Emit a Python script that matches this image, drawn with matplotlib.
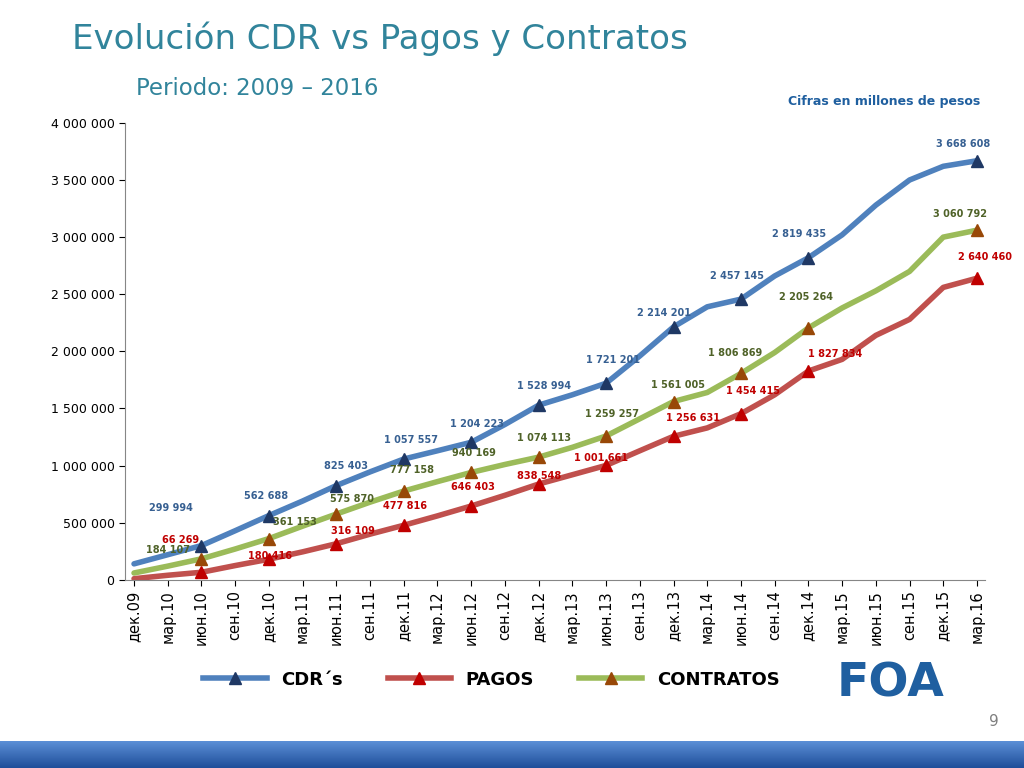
import numpy as np
import matplotlib
matplotlib.use('Agg')
import matplotlib.pyplot as plt
from matplotlib.ticker import FuncFormatter, MultipleLocator

QUARTERS = ['дек.09', 'мар.10', 'июн.10', 'сен.10', 'дек.10', 'мар.11', 'июн.11',
            'сен.11', 'дек.11', 'мар.12', 'июн.12', 'сен.12', 'дек.12', 'мар.13',
            'июн.13', 'сен.13', 'дек.13', 'мар.14', 'июн.14', 'сен.14', 'дек.14',
            'мар.15', 'июн.15', 'сен.15', 'дек.15', 'мар.16']

CDR = [140000, 220000, 299994, 430000, 562688, 690000, 825403, 945000, 1057557,
       1130000, 1204223, 1360000, 1528994, 1620000, 1721201, 1960000, 2214201,
       2390000, 2457145, 2660000, 2819435, 3020000, 3280000, 3500000, 3620000,
       3668608]
PAGOS = [10000, 40000, 66269, 125000, 180416, 245000, 316109, 400000, 477816,
         560000, 646403, 740000, 838548, 920000, 1001661, 1130000, 1256631,
         1330000, 1454415, 1620000, 1827834, 1930000, 2140000, 2280000, 2560000,
         2640460]
CONTRATOS = [60000, 120000, 184107, 270000, 361153, 470000, 575870, 680000,
             777158, 860000, 940169, 1010000, 1074113, 1160000, 1259257, 1410000,
             1561005, 1640000, 1806869, 1990000, 2205264, 2380000, 2530000,
             2700000, 3000000, 3060792]

# quarters carrying a marker and a value label
MARKED = [2, 4, 6, 8, 10, 12, 14, 16, 18, 20, 25]

SERIES = [
    ('CDR´s', CDR, '#4F81BD', '#1F3864', '#376092',
     [(-22, 27), (-2, 14), (7, 14), (5, 14), (4, 13), (4, 14), (5, 17),
      (-7, 10), (-3, 17), (-7, 17), (-10, 12)]),
    ('PAGOS', PAGOS, '#C0504D', '#C00000', '#C00000',
     [(-15, 23), (1, 2), (12, 9), (1, 14), (1, 14), (0, 6), (-4, 5),
      (14, 13), (9, 16), (19, 12), (6, 15)]),
    ('CONTRATOS', CONTRATOS, '#9BBB59', '#984807', '#4F6228',
     [(-24, 6), (19, 12), (11, 11), (6, 15), (2, 14), (4, 14), (4, 16),
      (3, 12), (-4, 15), (-2, 22), (-12, 12)]),
]

fig = plt.figure(figsize=(10.24, 7.68), dpi=100)
ax = fig.add_axes([0.122, 0.245, 0.840, 0.595])
x = np.arange(len(QUARTERS))

for name, vals, col, mcol, lcol, offs in SERIES:
    ax.plot(x, vals, color=col, lw=4, solid_capstyle='round', zorder=2)
    ax.plot(x[MARKED], np.array(vals)[MARKED], ls='none', marker='^', ms=9,
            mfc=mcol, mec=mcol, zorder=3)
    for i, (dx, dy) in zip(MARKED, offs):
        ax.annotate(f'{vals[i]:,}'.replace(',', ' '), (x[i], vals[i]),
                    xytext=(dx, dy), textcoords='offset points', ha='center',
                    va='center', fontsize=7, fontweight='bold', color=lcol,
                    zorder=4)

ax.set_xlim(-0.27, 25.24)
ax.set_ylim(0, 4000000)
ax.yaxis.set_major_locator(MultipleLocator(500000))
ax.yaxis.set_major_formatter(FuncFormatter(lambda v, p: f'{int(v):,}'.replace(',', ' ')))
ax.set_xticks(x)
ax.set_xticklabels(QUARTERS, rotation=90, fontsize=10.5)
ax.tick_params(axis='y', labelsize=9, length=4)
ax.tick_params(axis='x', length=4)
for s in ['top', 'right']:
    ax.spines[s].set_visible(False)
for s in ['left', 'bottom']:
    ax.spines[s].set_color('#868686')

# legend
handles = [plt.Line2D([], [], color=c, lw=4, marker='^', ms=9, mfc=m, mec=m)
           for _, _, c, m, _, _ in SERIES]
fig.legend(handles, [s[0] for s in SERIES], loc='center', ncol=3,
           bbox_to_anchor=(0.48, 0.115), frameon=False,
           handlelength=3.5, columnspacing=2.5,
           prop={'weight': 'bold', 'size': 13})

fig.text(0.07, 0.95, 'Evolución CDR vs Pagos y Contratos', fontsize=24.5,
         color='#31849B', va='center')
fig.text(0.133, 0.885, 'Periodo: 2009 – 2016', fontsize=16.5, color='#31849B',
         va='center')
fig.text(0.957, 0.868, 'Cifras en millones de pesos', fontsize=9,
         fontweight='bold', color='#1F5F9F', ha='right', va='center')
fig.text(0.975, 0.06, '9', fontsize=11, color='#7F7F7F', ha='right', va='center')
fig.text(0.87, 0.11, 'FOA', fontsize=34, fontweight='bold', color='#1F5FA0',
         ha='center', va='center')

# footer bar
bar = fig.add_axes([0, 0, 1, 0.035])
bar.imshow(np.linspace(0, 1, 50).reshape(-1, 1), aspect='auto',
           cmap=matplotlib.colors.LinearSegmentedColormap.from_list(
               'f', ['#5B8FD6', '#1F4E9A']), extent=[0, 1, 0, 1])
bar.axis('off')

fig.savefig('out.png', dpi=100)
